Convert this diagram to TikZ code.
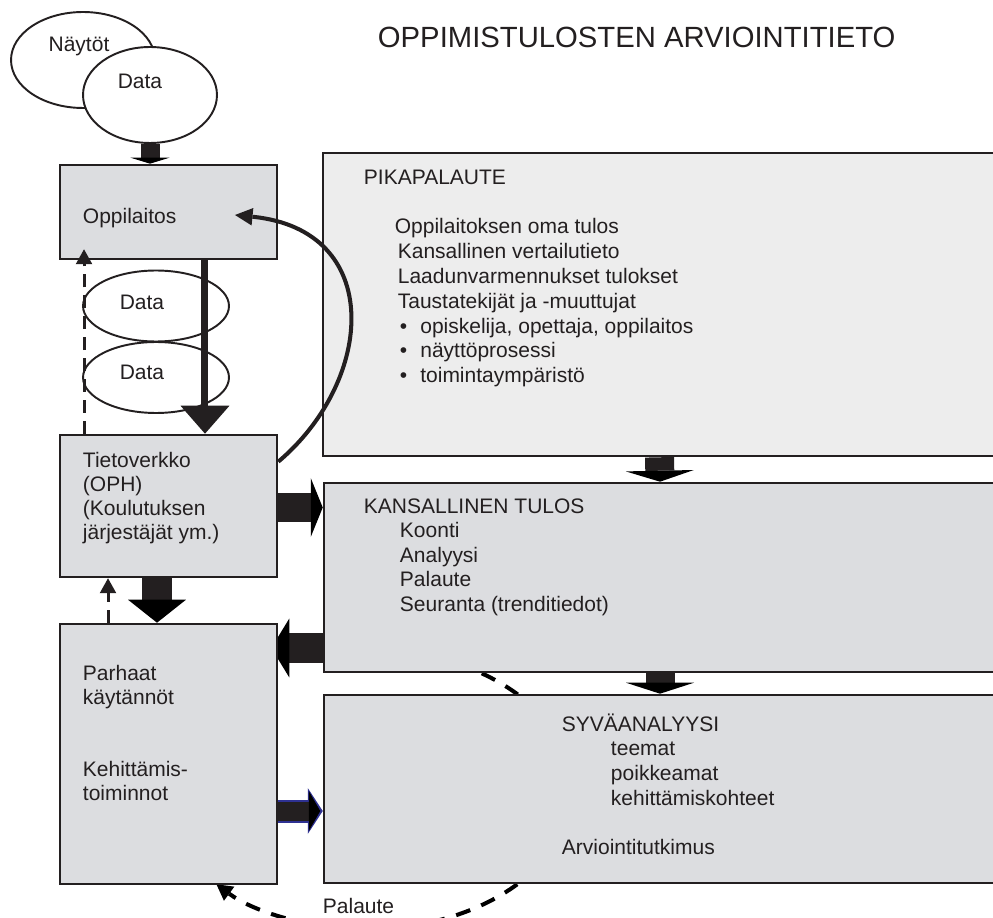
\documentclass[tikz,border=0pt]{standalone}
\usepackage{fontspec}
\setmainfont{Liberation Sans}
\usepackage{tikz}
\usetikzlibrary{shapes.geometric}
\usetikzlibrary{backgrounds}
\usetikzlibrary{positioning}
\usetikzlibrary{calc}
\usetikzlibrary{arrows.meta}
\definecolor{ink}{RGB}{35,31,32}
\definecolor{boxgray}{RGB}{220,221,224}
\definecolor{palegray}{RGB}{237,237,237}
\definecolor{navy}{RGB}{46,49,146}
\tikzset{every picture/.style={line width=1.1pt,color=ink,font=\fontsize{11.95}{13.66}\selectfont},
box/.style={draw=ink,fill=boxgray,inner sep=0pt,line width=1.5pt},
blob/.style={ellipse,draw=ink,fill=white,inner sep=0pt,line width=1.1pt},
txt/.style={inner sep=0pt,anchor=north west,align=left},
listtxt/.style={txt,font=\fontsize{11.95}{14.1}\selectfont},
blockarrow/.style n args={4}{line width=#1,-{Triangle[width=#2,length=#3,line width=0pt]},draw=#4},
dasharrow/.style={line width=1.7pt,dash pattern=on 7.4pt off 4.5pt,-{Triangle[width=9.5pt,length=8.5pt,line width=0pt]}}}

\begin{document}
\begin{tikzpicture}[x=0.02cm,y=-0.02cm]
\useasboundingbox (0,0) rectangle (993,918);
\clip (0,0) rectangle (993,918);

\node (title) [anchor=west,inner sep=0pt,font=\fontsize{16.65}{19}\selectfont] at (377,37) {OPPIMISTULOSTEN ARVIOINTITIETO};

\node (nayt) [blob,minimum width=2.88cm,minimum height=1.92cm] at (83,60) {};
\node (data1) [blob,minimum width=2.68cm,minimum height=1.92cm] at (150,95) {};
\node (naytlbl) [inner sep=0pt] at (79,46) {Näytöt};
\node (data1lbl) [inner sep=0pt] at (140,81) {Data};

\node (opp) [box,minimum width=4.34cm,minimum height=1.88cm] at (168.5,212) {};
\node (tiet) [box,minimum width=4.34cm,minimum height=2.84cm] at (168.5,506) {};
\node (parh) [box,minimum width=4.34cm,minimum height=5.2cm] at (168.5,754) {};
\node (pika) [box,fill=palegray,minimum width=13.74cm,minimum height=6.06cm] at (666.5,304.5) {};
\node (kans) [box,minimum width=13.72cm,minimum height=3.78cm] at (667,577.5) {};
\node (syva) [box,minimum width=13.72cm,minimum height=3.76cm] at (667,789) {};

\node (data2) [blob,minimum width=2.92cm,minimum height=1.42cm] at (156,306) {};
\node (data3) [blob,minimum width=2.92cm,minimum height=1.42cm] at (156,377.5) {};
\node (data2lbl) [inner sep=0pt] at (142,302) {Data};
\node (data3lbl) [inner sep=0pt] at (142,372) {Data};

\begin{scope}[on background layer]
\draw[blockarrow={0.38cm}{0.78cm}{0.12cm}{ink}] (data1.south) -- (data1.south |- opp.north);
\draw[blockarrow={0.6cm}{1.16cm}{0.46cm}{ink}] ([xshift=-0.23cm]tiet.south) -- ([xshift=-0.23cm]parh.north);
\draw[blockarrow={0.58cm}{1.18cm}{0.24cm}{ink}] (tiet.east |- 0,507.5) -- (kans.west |- 0,507.5);
\draw[blockarrow={0.6cm}{1.18cm}{0.36cm}{ink},shorten >=-0.14cm] (kans.west |- 0,648) -- (parh.east |- 0,648);
\draw[blockarrow={0.46cm}{0.92cm}{0.3cm}{navy}] (parh.east |- 0,811) -- (syva.west |- 0,811);
\draw[blockarrow={0.38cm}{0.8cm}{0.23cm}{ink},shorten >=0.05cm] (parh.east |- 0,811) -- (syva.west |- 0,811);
\draw[blockarrow={0.58cm}{1.36cm}{0.22cm}{ink}] ([xshift=-0.14cm]pika.south) -- ([xshift=-0.14cm]kans.north);
\draw[blockarrow={0.58cm}{1.36cm}{0.22cm}{ink}] ([xshift=-0.14cm]kans.south) -- ([xshift=-0.14cm]syva.north);
\draw[line width=2.3pt,dash pattern=on 8.5pt off 6.8pt,-{Triangle[width=10pt,length=9pt,line width=0pt]}] ([xshift=3.18cm]kans.south west) arc[start angle=55.9,end angle=-137.2,x radius=4.1cm,y radius=2.8cm];
\end{scope}

\draw[line width=0.14cm,-{Triangle[width=0.98cm,length=0.56cm,line width=0pt]}] ([xshift=0.73cm]opp.south) -- ([xshift=0.73cm]tiet.north);
\draw[line width=2.3pt,-{Triangle[width=10pt,length=10pt,line width=0pt]}] ([yshift=-0.56cm]tiet.north east) .. controls (375,380) and (385,230) .. ([xshift=1.33cm,yshift=-0.06cm]opp.center);
\draw[dasharrow,shorten >=-0.22cm] ([xshift=-1.69cm]tiet.north) -- ([xshift=-1.69cm]opp.south);
\draw[dasharrow] ([xshift=-1.21cm]parh.north) -- ([xshift=-1.21cm]tiet.south);

\node (opptxt) [txt] at (82,207.5) {Oppilaitos};
\node (tiettxt) [txt] at (82,451.5) {Tietoverkko\\(OPH)\\(Koulutuksen\\järjestäjät ym.)};
\node (parhtxt) [txt] at (82,664.5) {Parhaat\\käytännöt\\[27.3pt]Kehittämis-\\toiminnot};
\node (pikatxt) [listtxt] at (363,169.5) {PIKAPALAUTE\\[13.8pt]\hspace*{17.6pt}Oppilaitoksen oma tulos\\\hspace*{19.3pt}Kansallinen vertailutieto\\\hspace*{19.3pt}Laadunvarmennukset tulokset\\\hspace*{19.3pt}Taustatekijät ja -muuttujat\\\hspace*{20.5pt}\textbullet\hspace{7.4pt}opiskelija, opettaja, oppilaitos\\\hspace*{20.5pt}\textbullet\hspace{7.4pt}näyttöprosessi\\\hspace*{20.5pt}\textbullet\hspace{7.4pt}toimintaympäristö};
\node (kanstxt) [txt,font=\fontsize{11.95}{13.94}\selectfont] at (363,497.5) {KANSALLINEN TULOS\\\hspace*{20.5pt}Koonti\\\hspace*{20.5pt}Analyysi\\\hspace*{20.5pt}Palaute\\\hspace*{20.5pt}Seuranta (trenditiedot)};
\node (syvatxt) [listtxt] at (561,712.5) {SYVÄANALYYSI\\\hspace*{27.9pt}teemat\\\hspace*{27.9pt}poikkeamat\\\hspace*{27.9pt}kehittämiskohteet\\[13.8pt]Arviointitutkimus};
\node (palaute) [anchor=west,inner sep=0pt] at (322,906) {Palaute};
\end{tikzpicture}
\end{document}
